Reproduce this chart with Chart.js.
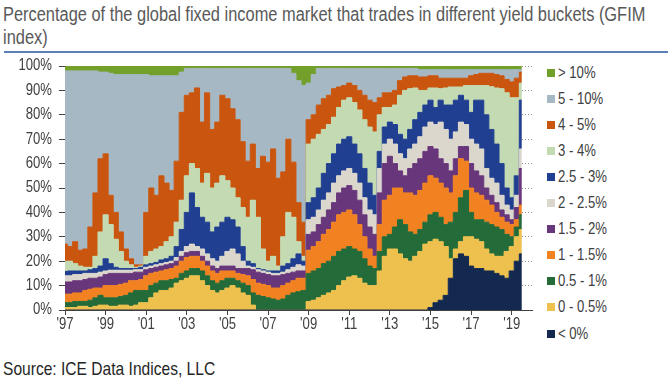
<!DOCTYPE html>
<html>
<head>
<meta charset="utf-8">
<script src="https://cdn.jsdelivr.net/npm/chart.js@4.4.1/dist/chart.umd.min.js"></script>
<style>
  html, body { margin: 0; padding: 0; background: #fff; }
  body { width: 668px; height: 378px; position: relative; overflow: hidden;
         font-family: 'Liberation Sans Narrow', 'Arial Narrow', 'Liberation Sans', Arial, sans-serif; }
  .narrow { display: inline-block; transform: scaleX(0.82); transform-origin: left top; white-space: nowrap; }
  #title { position: absolute; left: 3px; top: 3px; font-size: 20px; line-height: 23px; color: #595959; }
  #rule { position: absolute; left: 4px; right: 0; top: 51px; height: 2px; background: #5b80b6; }
  #chart { position: absolute; left: 0; top: 56px; }
  #legend { position: absolute; left: 547px; top: 0; }
  .item { position: absolute; left: 0; height: 16px; white-space: nowrap; font-size: 16px; line-height: 16px; color: #404040; }
  .box { position: absolute; left: 0; top: 4px; width: 8px; height: 8px; }
  .lbl { position: absolute; left: 11px; top: 0; }
  #source { position: absolute; left: 3px; top: 359px; font-size: 19px; line-height: 19px; color: #262626; }
</style>
</head>
<body>
<div id="title"><span class="narrow">Percentage of the global fixed income market that trades in different yield buckets (GFIM<br>index)</span></div>
<div id="rule"></div>
<canvas id="chart" width="540" height="290"></canvas>
<div id="legend"></div>
<div id="source"><span class="narrow">Source: ICE Data Indices, LLC</span></div>
<script>
// quarterly x categories, last two quarters have no data (axis runs to 2020)
const quarters = [
  '1997 Q1','1997 Q2','1997 Q3','1997 Q4','1998 Q1','1998 Q2','1998 Q3','1998 Q4',
  '1999 Q1','1999 Q2','1999 Q3','1999 Q4','2000 Q1','2000 Q2','2000 Q3','2000 Q4',
  '2001 Q1','2001 Q2','2001 Q3','2001 Q4','2002 Q1','2002 Q2','2002 Q3','2002 Q4',
  '2003 Q1','2003 Q2','2003 Q3','2003 Q4','2004 Q1','2004 Q2','2004 Q3','2004 Q4',
  '2005 Q1','2005 Q2','2005 Q3','2005 Q4','2006 Q1','2006 Q2','2006 Q3','2006 Q4',
  '2007 Q1','2007 Q2','2007 Q3','2007 Q4','2008 Q1','2008 Q2','2008 Q3','2008 Q4',
  '2009 Q1','2009 Q2','2009 Q3','2009 Q4','2010 Q1','2010 Q2','2010 Q3','2010 Q4',
  '2011 Q1','2011 Q2','2011 Q3','2011 Q4','2012 Q1','2012 Q2','2012 Q3','2012 Q4',
  '2013 Q1','2013 Q2','2013 Q3','2013 Q4','2014 Q1','2014 Q2','2014 Q3','2014 Q4',
  '2015 Q1','2015 Q2','2015 Q3','2015 Q4','2016 Q1','2016 Q2','2016 Q3','2016 Q4',
  '2017 Q1','2017 Q2','2017 Q3','2017 Q4','2018 Q1','2018 Q2','2018 Q3','2018 Q4',
  '2019 Q1','2019 Q2','2019 Q3','2019 Q4','2020 Q1'
];
const tickQuarters = ['1997 Q1','1999 Q1','2001 Q1','2003 Q1','2005 Q1','2007 Q1',
                      '2009 Q1','2011 Q1','2013 Q1','2015 Q1','2017 Q1','2019 Q1'];
const tickLabels = ["'97","'99","'01","'03","'05","'07","'09","'11","'13","'15","'17","'19"];
const yTickLabels = ['0%','10%','20%','30%','40%','50%','60%','70%','80%','90%','100%'];

const buckets = ['< 0%','0 - 0.5%','0.5 - 1%','1 - 1.5%','1.5 - 2%','2 - 2.5%','2.5 - 3%','3 - 4%','4 - 5%','5 - 10%','> 10%'];
const colors  = ['#13294f','#eec14e','#236b38','#f28221','#68367b','#dcd7cd','#203f91','#c4dab2','#c9550f','#a5b8c3','#72a02a'];

// cumulative share of the index (%) at the top edge of each bucket
const cumBelow0 = [
  0,0,0,0,0,0,0,0,0,0, 0,0,0,0,0,0,0,0,0,0, 0,0,0,0,0,0,0,0,0,0,
  0,0,0,0,0,0,0,0,0,0, 0,0,0,0,0,0,0,0,0,0, 0,0,0,0,0,0,0,0,0,0,
  0,0,0,0,0,0,0,0,0,0, 0,0,1,3,4,6,13,21,23,22, 18,17,17,16,16,15,14,13,16,20, 23
];
const cumTo05 = [
  1,1,1,1.5,1.5,1,1.5,2,2,1.5, 1.5,2,2,1.5,2,3,3,5,7,8,
  8,9,11,12,13,14,14,12,10,8, 7,8,9,10,9,7,6,2,0,0,
  0,0,0,0,0,0,0,0,3.5,4, 5,6,7,8,10,12,13.5,14,13,11,
  10,10,16,22,25,25,23,21,20,22, 24,27,28,29,28,26,21,25,28,30,
  30,29,28,25,23,22,22,24,26,30, 33
];
const cumTo1 = [
  3,3,3.5,3.5,3.5,4,5,6,5,5, 5,5.5,6,7,8,8,8,10,11,12,
  12,12.5,13,15,16,17,17,16,14,12, 11,12,13,13,12,11,10,7,6,5.5,
  5,4.5,4,4.5,6,7,7.5,8,15,16, 17,19,20,22,24,25,26,25,24,21,
  18,17,24,30,31,34,37,35,32,31, 33,36,39,40,38,35,36,40,46,49,
  40,37,37,36,35,34,33,31,30,34, 39
];
const cumTo15 = [
  6.5,6.5,7,7,8,8.5,9,9,10,10, 10,10.5,11,12,12,12.5,14,15,15.5,16,
  16.5,17,18,20,21.5,22,22,20,18,16, 15,16,16,16,15,14.5,14,12.5,11,10.5,
  10,9,9,10,11,12,13,13,24.5,26, 28,31,33,36,39,40,41,39,35,30,
  25,22,35,45,47,50,50,48,48,47, 49,52,55,54,52,50,48,55,62,61,
  50,48,47,45,43,40,38,36,35,37, 43
];
const cumTo2 = [
  11.5,11.5,12,12,12.5,13,13,13.5,14.5,15, 15,15,15,15,15.5,15.5,16.5,17,17.5,18,
  18.5,19,20,22,23.5,24,24,22,20,18, 17,18,18,18,17,17,17,16.5,15.5,15,
  14.5,14,14,14.5,15,15.5,16,16,31,32, 35,38,41,44,48,50,51,49,45,39,
  34,31,48,60,63,60,57,55,58,60, 62,65,67,66,62,60,57,62,67,67,
  60,57,55,50,47,44,41,39,37,42, 58
];
const cumTo25 = [
  14,14,14.5,14.5,15,15,15,15.5,16,16.3, 16.3,16.3,16.3,16.3,16.5,16.5,17.5,18,18.5,19,
  19.5,20,21.5,24,26,27,26,25,23,21, 20,22,24,25,23,20,18,17.5,16.5,16,
  15.5,15,15,15.5,16.5,17.5,18.5,18,37,38, 41,45,48,52,55,57,58,56,52,46,
  41,39,58,68,70,68,64,62,66,68, 71,75,77,76,77,74,70,73,77,76,
  70,68,66,58,54,52,47,43,41,47, 66
];
const cumTo3 = [
  15.8,16,16,16,16,16.5,17,18,21,19, 17.5,17,17,17,17,17.5,18.5,19,19.5,20.5,
  21,22,26,33,40,48,42,38,36,32, 34,36,38,37,34,26,20,19,17,16.5,
  16,16,16,18,19,21,23,20,44,46, 50,56,60,64,68,70,71,68,64,58,
  52,47,65,75,77,76,72,70,74,78, 81,84,86,83,86,84,84,86,88,86,
  81,86,86,80,74,68,60,50,46,55, 86
];
const cumTo4 = [
  20,20,19,18,17.5,17.5,22,32,39,35, 29,24,20,18.5,17.5,18,22,24,25,26,
  28,30,36,45,55,60,58,52,56,50, 52,55,53,50,46,42,38,45,38,25,
  20,22,18,30,40,38,28,22,68,70, 72,74,76,79,83,86,87,85,82,78,
  75,73,80,83,83,84,88,90,90.7,91, 90,90,91,91,90.7,91,91.4,91.4,91.4,92,
  92,92,92,92,91.5,91,90.7,89,87,87, 93
];
const cumTo5 = [
  27,26,28,24.5,25,34,48,62,64,47, 40,32,25,21,18.5,18.5,40,50,47,55,
  52,49,61,81,88,89,91,77,89,74, 77,88,86.6,82.5,78,69,61,68,58,63,
  60.6,66,54,56.6,70,60.6,44,36,78,80, 84,86.6,88,90.7,91.4,92,93,92,90,88,
  86,85,87,89,89,90,94,95.5,96,96, 95.5,95.5,96,96,95,95,95,95,95,95,
  96,96.5,97,97,97,96.5,96,94.5,93.5,95, 97.5
];
const cumTo10 = [
  98,98,98,98,98,98,98,97.5,97.5,97, 96.5,96.5,96.5,96.5,96.5,96.5,96.5,96,96,96,
  96,96,96,97.5,99,99,99,99,99,99, 99,99,99,99,99,99,99,99,99,99,
  99,99,99,99,99,97,94,92,93,96.5, 99,99,99,99,99,99,99,99,99,99,
  99,99,99,99,99,99,99,99,99,99, 98.5,98.5,98.5,98.5,98.5,98.5,98.5,98.5,98.5,98.5,
  98.5,98.5,98.5,98.5,98.5,98.5,98.5,98.5,98.5,98.5, 98.5
];

const bounds = [cumBelow0, cumTo05, cumTo1, cumTo15, cumTo2, cumTo25, cumTo3, cumTo4, cumTo5, cumTo10];

const datasets = bounds.map((d, k) => ({
  label: buckets[k],
  data: d,
  backgroundColor: colors[k],
  borderColor: colors[k],
  borderWidth: 1,
  fill: k === 0 ? 'origin' : '-1',
}));
// > 10% fills from the top of the 5-10% bucket up to 100%
datasets.push({
  label: buckets[10],
  data: cumTo10,
  backgroundColor: colors[10],
  borderColor: colors[10],
  borderWidth: 1,
  fill: 'end',
});

const font = "'Liberation Sans Narrow', 'Arial Narrow', 'Liberation Sans', Arial, sans-serif";

// the source uses a condensed face; draw tick labels squeezed horizontally
const narrowTickLabels = {
  id: 'narrowTickLabels',
  afterDraw(chart) {
    const { ctx, scales: { x, y } } = chart
    ctx.save()
    ctx.fillStyle = '#404040'
    ctx.font = '16px ' + font
    ctx.textBaseline = 'middle'
    ctx.textAlign = 'right'
    y.ticks.forEach((t) => {
      ctx.save()
      ctx.translate(y.right - 13, y.getPixelForValue(t.value))
      ctx.scale(0.82, 1)
      ctx.fillText(yTickLabels[Math.round(t.value / 10)], 0, 0)
      ctx.restore()
    })
    ctx.textAlign = 'center'
    x.ticks.forEach((t) => {
      ctx.save()
      ctx.translate(x.getPixelForValue(t.value), x.top + 15)
      ctx.scale(0.82, 1)
      ctx.fillText(tickLabels[tickQuarters.indexOf(quarters[t.value])], 0, 0)
      ctx.restore()
    })
    ctx.restore()
  },
}

new Chart(document.getElementById('chart').getContext('2d'), {
  type: 'line',
  data: { labels: quarters, datasets },
  plugins: [narrowTickLabels],
  options: {
    responsive: false,
    animation: false,
    devicePixelRatio: 1,
    events: [],
    layout: { padding: { top: 10, right: 8, bottom: 0, left: 0 } },
    elements: {
      point: { radius: 0 },
      line: { stepped: 'middle', tension: 0 },
    },
    plugins: {
      legend: { display: false },
      tooltip: { enabled: false },
    },
    scales: {
      x: {
        type: 'category',
        offset: false,
        afterBuildTicks: (scale) => {
          scale.ticks = tickQuarters.map(q => ({ value: quarters.indexOf(q) }))
        },
        afterFit: (scale) => { scale.height = 36 },
        grid: { drawOnChartArea: false, drawTicks: true, tickLength: 5, tickColor: '#404040' },
        border: { display: true, color: '#404040', width: 1 },
        ticks: { display: false, autoSkip: false, maxRotation: 0 },
      },
      y: {
        min: 0,
        max: 100,
        afterFit: (scale) => { scale.width = 65 },
        grid: { color: '#9a9a9a', tickColor: '#404040', tickLength: 6, drawTicks: true },
        border: { display: true, color: '#404040', width: 1, dash: [1, 2] },
        ticks: { display: false, stepSize: 10 },
      },
    },
  },
})

// legend, top to bottom from > 10% down to < 0%
const legendEl = document.getElementById('legend')
for (let k = buckets.length - 1, row = 0; k >= 0; k--, row++) {
  const item = document.createElement('div')
  item.className = 'item'
  item.style.top = (64.5 + row * 26.1) + 'px'
  item.innerHTML = '<span class="box" style="background:' + colors[k] + '"></span><span class="lbl narrow"></span>'
  item.querySelector('.lbl').textContent = buckets[k]
  legendEl.appendChild(item)
}
</script>
</body>
</html>
